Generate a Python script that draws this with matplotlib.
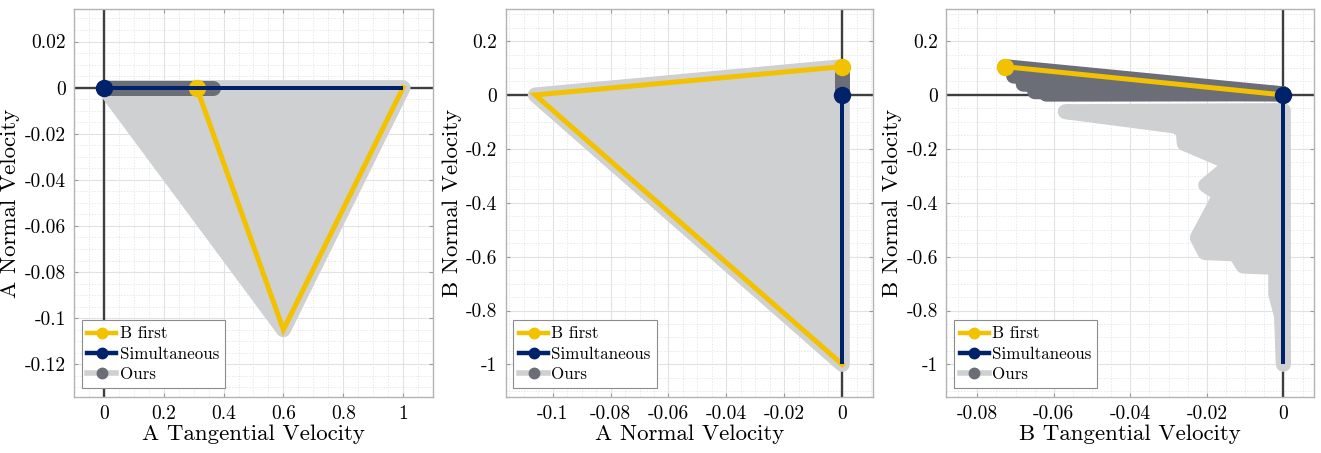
import matplotlib
matplotlib.use('Agg')
import matplotlib.pyplot as plt
from matplotlib.lines import Line2D
from matplotlib.ticker import FixedLocator, AutoMinorLocator, FuncFormatter

plt.rcParams['font.family'] = 'serif'
plt.rcParams['font.serif'] = ['cmr10', 'DejaVu Serif']
plt.rcParams['axes.unicode_minus'] = False
plt.rcParams['mathtext.fontset'] = 'cm'

# ---------------- data ----------------
# Panel 1: A tangential (x) vs A normal (y)
p1_bfirst_x = [0.31, 0.60, 1.00]
p1_bfirst_y = [0.0, -0.105, 0.0]
p1_sim_x = [0.0, 1.0]
p1_sim_y = [0.0, 0.0]
p1_ours_region_x = [0.0, 0.60, 1.00]
p1_ours_region_y = [0.0, -0.105, 0.0]
p1_ours_start_x = [0.0, 0.12, 0.24, 0.363]
p1_ours_start_y = [0.0, 0.0, 0.0, 0.0]

# Panel 2: A normal (x) vs B normal (y)
p2_bfirst_x = [0.0, -0.106, 0.0]
p2_bfirst_y = [0.105, 0.0, -1.0]
p2_sim_x = [0.0, 0.0]
p2_sim_y = [0.0, -1.0]
p2_ours_region_x = [0.0, -0.106, 0.0]
p2_ours_region_y = [0.105, 0.0, -1.0]
p2_ours_start_x = [0.0, 0.0]
p2_ours_start_y = [0.105, 0.0]

# Panel 3: B tangential (x) vs B normal (y)
p3_bfirst_x = [-0.0728, 0.0]
p3_bfirst_y = [0.105, 0.0]
p3_sim_x = [0.0, 0.0]
p3_sim_y = [0.0, -1.0]
p3_ours_start_x = [-0.0728, -0.0705, -0.0680, -0.0650, -0.0620]
p3_ours_start_y = [0.105, 0.070, 0.040, 0.012, 0.003]
p3_ours_join_x = 0.0
p3_ours_join_y = 0.004
p3_ours_region_x = [-0.0570, 0.0, 0.0, -0.0005, -0.0020, -0.0020, -0.0105, -0.0125,
                    -0.0205, -0.0225, -0.0165, -0.0203, -0.0135, -0.0259, -0.0262, -0.0285]
p3_ours_region_y = [-0.062, -0.058, -1.0, -0.82, -0.74, -0.64, -0.635, -0.59,
                    -0.585, -0.53, -0.37, -0.335, -0.255, -0.18, -0.13, -0.115]

p1_xticks = [0, 0.2, 0.4, 0.6, 0.8, 1.0]
p1_yticks = [0.02, 0, -0.02, -0.04, -0.06, -0.08, -0.1, -0.12]
p2_xticks = [-0.1, -0.08, -0.06, -0.04, -0.02, 0]
p23_yticks = [0.2, 0, -0.2, -0.4, -0.6, -0.8, -1.0]
p3_xticks = [-0.08, -0.06, -0.04, -0.02, 0]

labels = ['B first', 'Simultaneous', 'Ours']

# ---------------- style ----------------
YELLOW = '#F2C100'
NAVY = '#00226A'
DARK = '#6B6E76'
LIGHT = '#CFD0D2'
PX = 0.72
LW_OURS = 15 * PX
MS = 16 * PX
LW_Y = 5 * PX
LW_N = 4 * PX

W, H = 1321, 453
fig = plt.figure(figsize=(W / 100, H / 100), dpi=100)


def make_ax(left_px, right_px):
    top_px, bot_px = 9, 397
    return fig.add_axes([left_px / W, (H - bot_px) / H,
                         (right_px - left_px) / W, (bot_px - top_px) / H])


def fmt(v, p):
    v = round(v, 10) + 0.0
    return '%g' % v


def style(ax, xlim, ylim, xticks, yticks, xlabel, ylabel):
    ax.set_xlim(*xlim)
    ax.set_ylim(*ylim)
    ax.xaxis.set_major_locator(FixedLocator(xticks))
    ax.yaxis.set_major_locator(FixedLocator(yticks))
    ax.xaxis.set_minor_locator(AutoMinorLocator(4))
    ax.yaxis.set_minor_locator(AutoMinorLocator(4))
    ax.xaxis.set_major_formatter(FuncFormatter(fmt))
    ax.yaxis.set_major_formatter(FuncFormatter(fmt))
    ax.set_axisbelow(True)
    ax.grid(which='major', color='#e2e2e2', lw=0.8)
    ax.grid(which='minor', color='#e9e9e9', lw=0.7, ls=(0, (1.5, 1.5)))
    ax.tick_params(which='major', direction='in', top=True, right=True,
                   color='#9a9a9a', length=3, labelsize=14, pad=6)
    ax.tick_params(which='minor', length=0)
    for s in ax.spines.values():
        s.set_color('#b3b3b3')
        s.set_linewidth(1.0)
    ax.axhline(0, color='#3d3d42', lw=1.7, zorder=1)
    ax.axvline(0, color='#3d3d42', lw=1.7, zorder=1)
    ax.set_xlabel(xlabel, fontsize=16.5, labelpad=1)
    ax.set_ylabel(ylabel, fontsize=16.5, labelpad=3)


def legend(ax, width_px):
    handles = [
        Line2D([], [], color=YELLOW, lw=3.2, marker='o', ms=7.5, mfc=YELLOW, mec=YELLOW),
        Line2D([], [], color=NAVY, lw=3.2, marker='o', ms=7.5, mfc=NAVY, mec=NAVY),
        Line2D([], [], color=LIGHT, lw=4.0, marker='o', ms=7.5, mfc=DARK, mec=DARK),
    ]
    leg = ax.legend(handles, labels, loc='lower left',
                    bbox_to_anchor=(7.5 / width_px, 9.5 / 388), borderaxespad=0,
                    fancybox=False, framealpha=1, edgecolor='#8c8c8c', fontsize=12.2,
                    numpoints=1, handlelength=1.7, handletextpad=0.2, borderpad=0.35,
                    labelspacing=0.28)
    leg.get_frame().set_linewidth(0.8)
    leg.set_zorder(20)


def draw_region(ax, xs, ys):
    ax.fill(xs, ys, facecolor=LIGHT, edgecolor=LIGHT, lw=LW_OURS,
            joinstyle='round', zorder=2)


# ---------------- panel 1 ----------------
ax1 = make_ax(74, 433)
draw_region(ax1, p1_ours_region_x, p1_ours_region_y)
ax1.plot(p1_ours_start_x, p1_ours_start_y, color=DARK, lw=LW_OURS,
         solid_capstyle='round', zorder=3)
ax1.plot(p1_bfirst_x, p1_bfirst_y, color=YELLOW, lw=LW_Y, marker='o', ms=MS,
         markevery=[0], solid_joinstyle='miter', zorder=4)
ax1.plot(p1_sim_x, p1_sim_y, color=NAVY, lw=LW_N, marker='o', ms=MS,
         markevery=[0], solid_capstyle='butt', zorder=5)
style(ax1, (-0.1, 1.1), (-0.1342, 0.0341), p1_xticks, p1_yticks,
      'A Tangential Velocity', 'A Normal Velocity')
legend(ax1, 359)

# ---------------- panel 2 ----------------
ax2 = make_ax(505.7, 873)
draw_region(ax2, p2_ours_region_x, p2_ours_region_y)
ax2.plot(p2_ours_start_x, p2_ours_start_y, color=DARK, lw=LW_OURS,
         solid_capstyle='round', zorder=3)
ax2.plot(p2_bfirst_x, p2_bfirst_y, color=YELLOW, lw=LW_Y, marker='o', ms=MS,
         markevery=[0], solid_joinstyle='miter', zorder=4)
ax2.plot(p2_sim_x, p2_sim_y, color=NAVY, lw=LW_N, marker='o', ms=MS,
         markevery=[0], solid_capstyle='butt', zorder=5)
style(ax2, (-0.1162, 0.0106), (-1.121, 0.319), p2_xticks, p23_yticks,
      'A Normal Velocity', 'B Normal Velocity')
legend(ax2, 367.3)

# ---------------- panel 3 ----------------
ax3 = make_ax(946.3, 1314)
draw_region(ax3, p3_ours_region_x, p3_ours_region_y)
for sx, sy in zip(p3_ours_start_x, p3_ours_start_y):
    ax3.plot([sx, p3_ours_join_x], [sy, p3_ours_join_y], color=DARK, lw=LW_OURS,
             solid_capstyle='round', zorder=3)
ax3.plot(p3_bfirst_x, p3_bfirst_y, color=YELLOW, lw=LW_Y, marker='o', ms=MS,
         markevery=[0], zorder=4)
ax3.plot(p3_sim_x, p3_sim_y, color=NAVY, lw=LW_N, marker='o', ms=MS,
         markevery=[0], solid_capstyle='butt', zorder=5)
style(ax3, (-0.0881, 0.008), (-1.121, 0.319), p3_xticks, p23_yticks,
      'B Tangential Velocity', 'B Normal Velocity')
legend(ax3, 367.7)

fig.savefig('out.png', dpi=100)
